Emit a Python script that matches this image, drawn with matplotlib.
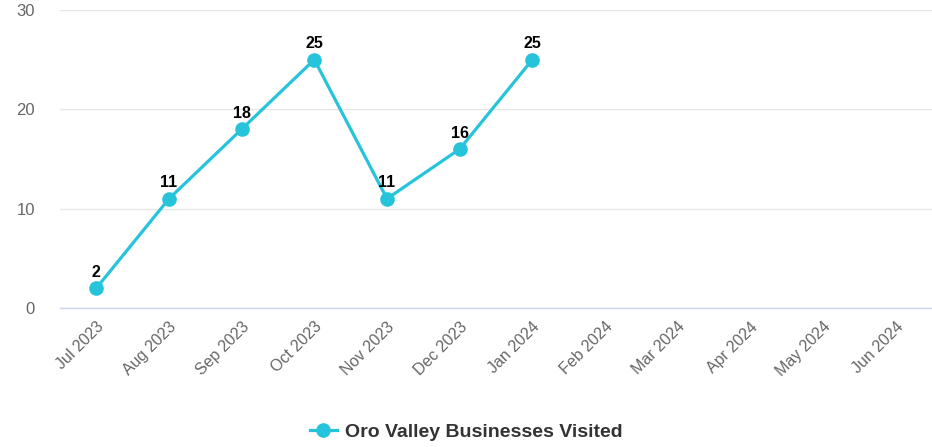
import matplotlib.pyplot as plt
import numpy as np

plt.rcParams['font.family'] = ['Liberation Sans', 'DejaVu Sans']

months = ['Jul 2023', 'Aug 2023', 'Sep 2023', 'Oct 2023', 'Nov 2023', 'Dec 2023',
          'Jan 2024', 'Feb 2024', 'Mar 2024', 'Apr 2024', 'May 2024', 'Jun 2024']
visited = [2, 11, 18, 25, 11, 16, 25]
yticks = [0, 10, 20, 30]
series_name = 'Oro Valley Businesses Visited'

color = '#26c4da'

fig = plt.figure(figsize=(9.32, 4.47), dpi=100)
ax = fig.add_axes([60 / 932, (447 - 308) / 447, 872 / 932, 298 / 447])

x = np.arange(len(visited))
ax.plot(x, visited, color=color, lw=2.3, marker='o', ms=9.5, zorder=3, clip_on=False)
for xi, v in zip(x, visited):
    ax.annotate(str(v), (xi, v), xytext=(0, 6), textcoords='offset points',
                ha='center', va='bottom', fontsize=11.5, fontweight='bold', color='#000000',
                zorder=4)

ax.set_xlim(-0.5, len(months) - 0.5)
ax.set_ylim(0, 30)
ax.set_yticks(yticks)
ax.set_yticklabels([str(t) for t in yticks])
ax.set_xticks(np.arange(len(months)))
ax.set_xticklabels(months, rotation=45, ha='right', rotation_mode='anchor')

ax.grid(axis='y', color='#e6e6e6', lw=1)
ax.set_axisbelow(True)
for s in ['top', 'right', 'left']:
    ax.spines[s].set_visible(False)
ax.spines['bottom'].set_color('#ccd6eb')
ax.spines['bottom'].set_linewidth(1)
ax.tick_params(axis='x', length=0, pad=8, labelsize=11.5, labelcolor='#666666')
ax.tick_params(axis='y', length=0, pad=18, labelsize=12, labelcolor='#666666')

handle, = ax.plot([], [], color=color, lw=2.3, marker='o', ms=9.5)
leg = fig.legend([handle], [series_name], loc='center', bbox_to_anchor=(0.5, (447 - 432) / 447),
                 frameon=False, handlelength=1.4, handletextpad=0.4,
                 prop={'size': 14, 'weight': 'bold'})
for t in leg.get_texts():
    t.set_color('#333333')

fig.savefig('out.png', dpi=100)
